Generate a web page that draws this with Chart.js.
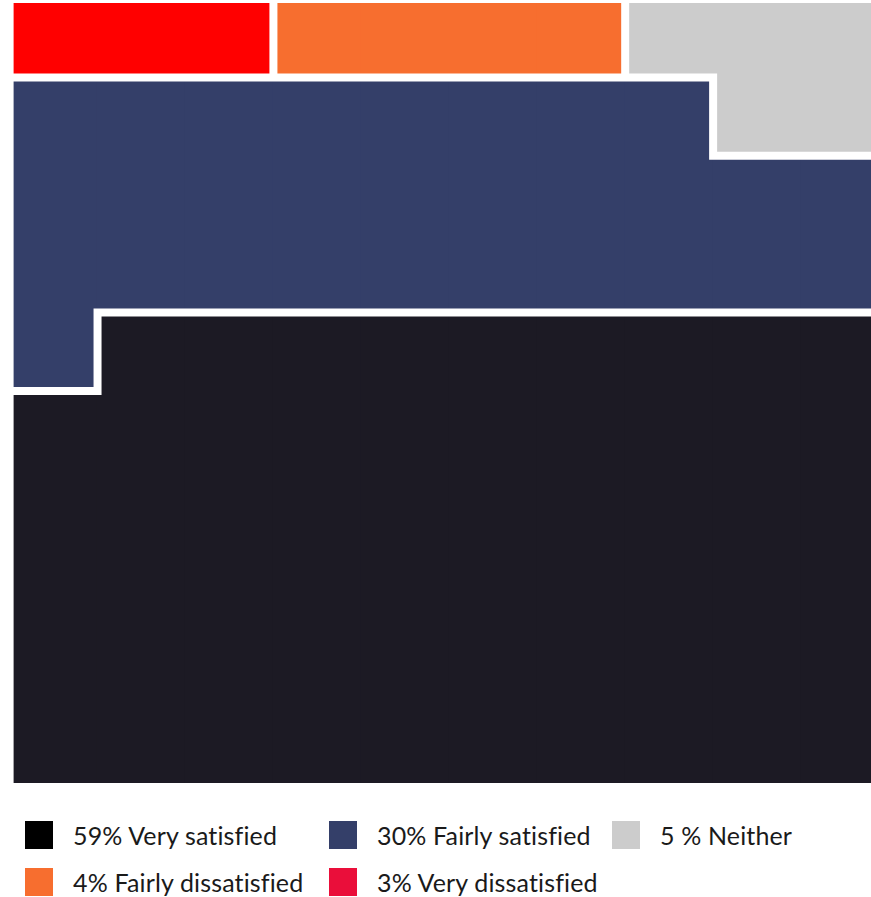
<!DOCTYPE html>
<html>
<head>
<meta charset="utf-8">
<title>Satisfaction</title>
<script src="https://cdn.jsdelivr.net/npm/chart.js@4.4.1/dist/chart.umd.min.js"></script>
<style>
  html, body { margin: 0; padding: 0; background: #fff; overflow: hidden; width: 871px; height: 897px; }
  #wrap { position: absolute; left: 0; top: -1px; width: 889px; height: 784px; }
  #legend {
    position: absolute; left: 25px; top: 821px;
    display: grid; grid-template-columns: 304px 283px auto; row-gap: 19px;
    font-family: Lato, "Open Sans", sans-serif; font-size: 25px; letter-spacing: 0.15px; color: #1a1a1a;
  }
  .item { display: flex; align-items: center; height: 28px; white-space: nowrap; }
  .box { width: 28px; height: 28px; margin-right: 20px; flex: none; }
</style>
</head>
<body>
<div id="wrap"><canvas id="c" width="889" height="784"></canvas></div>
<div id="legend"></div>
<script>
// Response categories, most to least satisfied
const categories = ['Very satisfied', 'Fairly satisfied', 'Neither', 'Fairly dissatisfied', 'Very dissatisfied'];
// Legend text (percentages are rounded and add up to 101)
const legendLabels = ['59% Very satisfied', '30% Fairly satisfied', '5 % Neither', '4% Fairly dissatisfied', '3% Very dissatisfied'];
// Number of cells each category takes in the 10 x 10 grid (exactly 100)
const cellCounts = [59, 29, 5, 4, 3];
// Fill colours in the grid and swatch colours in the legend
const fillColors = ['#1C1A24', '#343F69', '#CCCCCC', '#F76E2F', '#FF0000'];
const swatchColors = ['#000000', '#343F69', '#CCCCCC', '#F76E2F', '#EA0E3A'];

const COLS = 10, ROWS = 10;

// Fill the grid from the top-left corner, least satisfied first,
// one row at a time with the direction alternating on each row.
const grid = Array.from({ length: ROWS }, () => new Array(COLS).fill(-1));
const sequence = [];
for (let i = categories.length - 1; i >= 0; i--) {
  for (let k = 0; k < cellCounts[i]; k++) sequence.push(i);
}
let n = 0;
for (let r = ROWS - 1; r >= 0; r--) {
  const leftToRight = (ROWS - 1 - r) % 2 === 0;
  for (let j = 0; j < COLS; j++) {
    const c = leftToRight ? j : COLS - 1 - j;
    grid[r][c] = n < sequence.length ? sequence[n] : -1;
    n++;
  }
}

// Each column becomes one stacked bar: cells per category in that column
const columnLabels = Array.from({ length: COLS }, (_, c) => String(c + 1));
const datasets = categories.map((name, i) => ({
  label: name,
  data: columnLabels.map((_, c) => {
    let count = 0;
    for (let r = 0; r < ROWS; r++) if (grid[r][c] === i) count++;
    return count || null;
  }),
  backgroundColor: fillColors[i],
  borderWidth: 0,
  inflateAmount: 1,
  barPercentage: 1,
  categoryPercentage: 1
}));

// White lines between neighbouring cells of different categories
const separators = {
  id: 'separators',
  afterDatasetsDraw(chart) {
    const { ctx, scales: { x, y } } = chart;
    const xe = c => x.getPixelForValue(c - 0.5);
    const ye = r => y.getPixelForValue(r);
    ctx.save();
    ctx.strokeStyle = '#ffffff';
    ctx.lineWidth = 8;
    ctx.lineCap = 'square';
    ctx.beginPath();
    const seg = (x1, y1, x2, y2) => { ctx.moveTo(x1, y1); ctx.lineTo(x2, y2); };
    for (let r = 0; r < ROWS; r++) {
      for (let c = 0; c < COLS; c++) {
        if (c + 1 < COLS && grid[r][c] !== grid[r][c + 1]) seg(xe(c + 1), ye(r), xe(c + 1), ye(r + 1));
        if (r + 1 < ROWS && grid[r][c] !== grid[r + 1][c]) seg(xe(c), ye(r + 1), xe(c + 1), ye(r + 1));
      }
    }
    // outline on the left, top and right
    seg(xe(0), ye(0), xe(0), ye(ROWS));
    seg(xe(0), ye(ROWS), xe(COLS), ye(ROWS));
    seg(xe(COLS), ye(ROWS), xe(COLS), ye(0));
    ctx.stroke();
    ctx.restore();
  }
};

new Chart(document.getElementById('c'), {
  type: 'bar',
  data: { labels: columnLabels, datasets },
  options: {
    responsive: false,
    animation: false,
    layout: { padding: { left: 9.6, right: 0, top: 0, bottom: 0 } },
    plugins: { legend: { display: false }, tooltip: { enabled: false } },
    scales: {
      x: { stacked: true, display: false },
      y: { stacked: true, display: false, min: 0, max: ROWS }
    }
  },
  plugins: [separators]
});

// Legend
const legend = document.getElementById('legend');
legendLabels.forEach((text, i) => {
  const item = document.createElement('div');
  item.className = 'item';
  const box = document.createElement('span');
  box.className = 'box';
  box.style.background = swatchColors[i];
  const label = document.createElement('span');
  label.textContent = text;
  item.appendChild(box);
  item.appendChild(label);
  legend.appendChild(item);
});
</script>
</body>
</html>
